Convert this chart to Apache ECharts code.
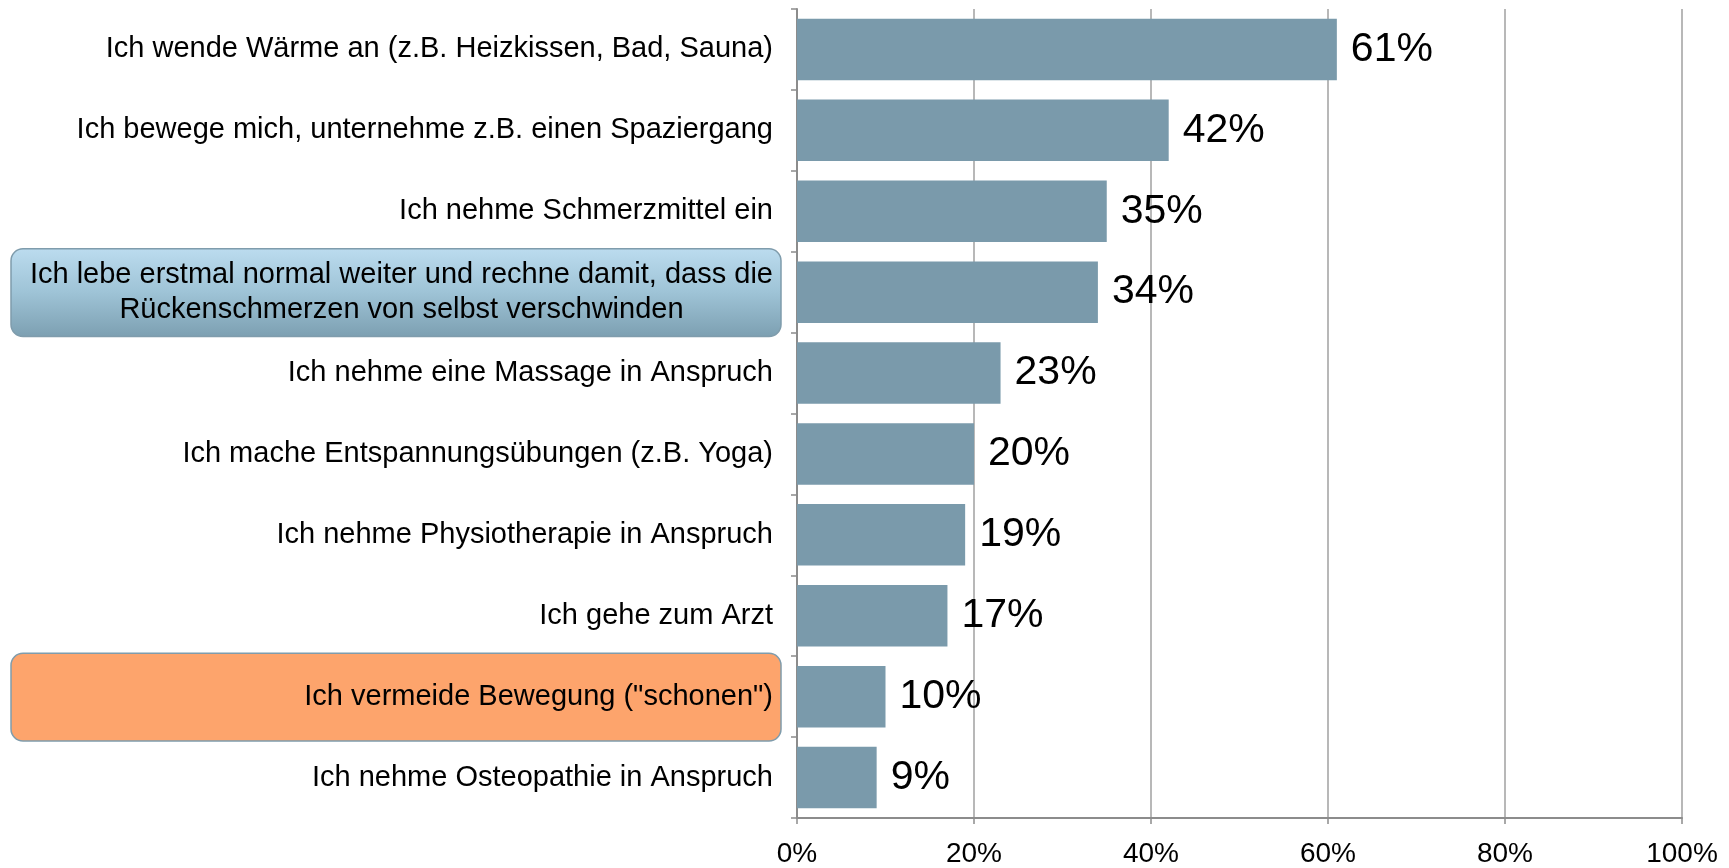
<!DOCTYPE html>
<html>
<head>
<meta charset="utf-8">
<script src="https://cdn.jsdelivr.net/npm/echarts@6/dist/echarts.min.js"></script>
<style>
  html, body { margin: 0; padding: 0; background: #fff; }
  #chart { width: 1729px; height: 868px; }
</style>
</head>
<body>
<div id="chart"></div>
<script>
const categories = [
  'Ich wende Wärme an (z.B. Heizkissen, Bad, Sauna)',
  'Ich bewege mich, unternehme z.B. einen Spaziergang',
  'Ich nehme Schmerzmittel ein',
  'Ich lebe erstmal normal weiter und rechne damit, dass die\nRückenschmerzen von selbst verschwinden',
  'Ich nehme eine Massage in Anspruch',
  'Ich mache Entspannungsübungen (z.B. Yoga)',
  'Ich nehme Physiotherapie in Anspruch',
  'Ich gehe zum Arzt',
  'Ich vermeide Bewegung ("schonen")',
  'Ich nehme Osteopathie in Anspruch'
]
const values = [61, 42, 35, 34, 23, 20, 19, 17, 10, 9]
const xTicks = [0, 20, 40, 60, 80, 100]

// highlighted categories and their box styles
const highlights = [
  { index: 3, kind: 'blue' },
  { index: 8, kind: 'orange' }
]

const FONT = '"Liberation Sans", Arial, sans-serif'
const chart = echarts.init(document.getElementById('chart'))

chart.setOption({
  animation: false,
  grid: { left: 797, right: 47, top: 9, bottom: 49 },
  xAxis: {
    type: 'value',
    min: xTicks[0],
    max: xTicks[xTicks.length - 1],
    interval: 20,
    axisLine: { show: true, lineStyle: { color: '#8c8c8c', width: 2 } },
    axisTick: { show: true, length: 6, lineStyle: { color: '#8c8c8c', width: 1.5 } },
    splitLine: { show: true, lineStyle: { color: '#a0a0a0', width: 1.5 } },
    axisLabel: {
      color: '#000', fontFamily: FONT, fontSize: 28, margin: 22,
      formatter: v => v + '%'
    }
  },
  yAxis: {
    type: 'category',
    inverse: true,
    data: categories,
    axisLine: { show: true, lineStyle: { color: '#8c8c8c', width: 2 } },
    axisTick: { show: true, length: 6, lineStyle: { color: '#8c8c8c', width: 1.5 } },
    axisLabel: {
      color: '#000', fontFamily: FONT, fontSize: 29, margin: 24,
      lineHeight: 35, align: 'right',
      formatter: v => v.indexOf('\n') > 0 ? '{c|' + v.replace('\n', '}\n{c|') + '}' : v,
      rich: { c: { align: 'center', fontFamily: FONT, fontSize: 29, color: '#000', lineHeight: 35 } }
    }
  },
  series: [{
    type: 'bar',
    data: values,
    barCategoryGap: '24%',
    itemStyle: { color: '#7a9aab' },
    label: {
      show: true, position: 'right', distance: 14,
      color: '#000', fontFamily: FONT, fontSize: 41,
      formatter: p => p.value + '%'
    }
  }]
})

// background boxes behind the highlighted category labels, placed from the axis
function drawHighlights() {
  const band = chart.convertToPixel({ yAxisIndex: 0 }, 1) - chart.convertToPixel({ yAxisIndex: 0 }, 0)
  const elements = highlights.map(h => {
    const cy = chart.convertToPixel({ yAxisIndex: 0 }, h.index)
    const fill = h.kind === 'blue'
      ? new echarts.graphic.LinearGradient(0, 0, 0, 1, [
          { offset: 0, color: '#bcdcef' },
          { offset: 0.5, color: '#9ec3d6' },
          { offset: 1, color: '#7c9fb1' }
        ])
      : '#fda46c'
    return {
      type: 'rect', z: -1,
      shape: { x: 11, y: cy - band / 2 - 3, width: 770, height: band + 7, r: 12 },
      style: { fill: fill, stroke: '#7f9cac', lineWidth: 1.5 }
    }
  })
  chart.setOption({ graphic: elements })
}
drawHighlights()
</script>
</body>
</html>
